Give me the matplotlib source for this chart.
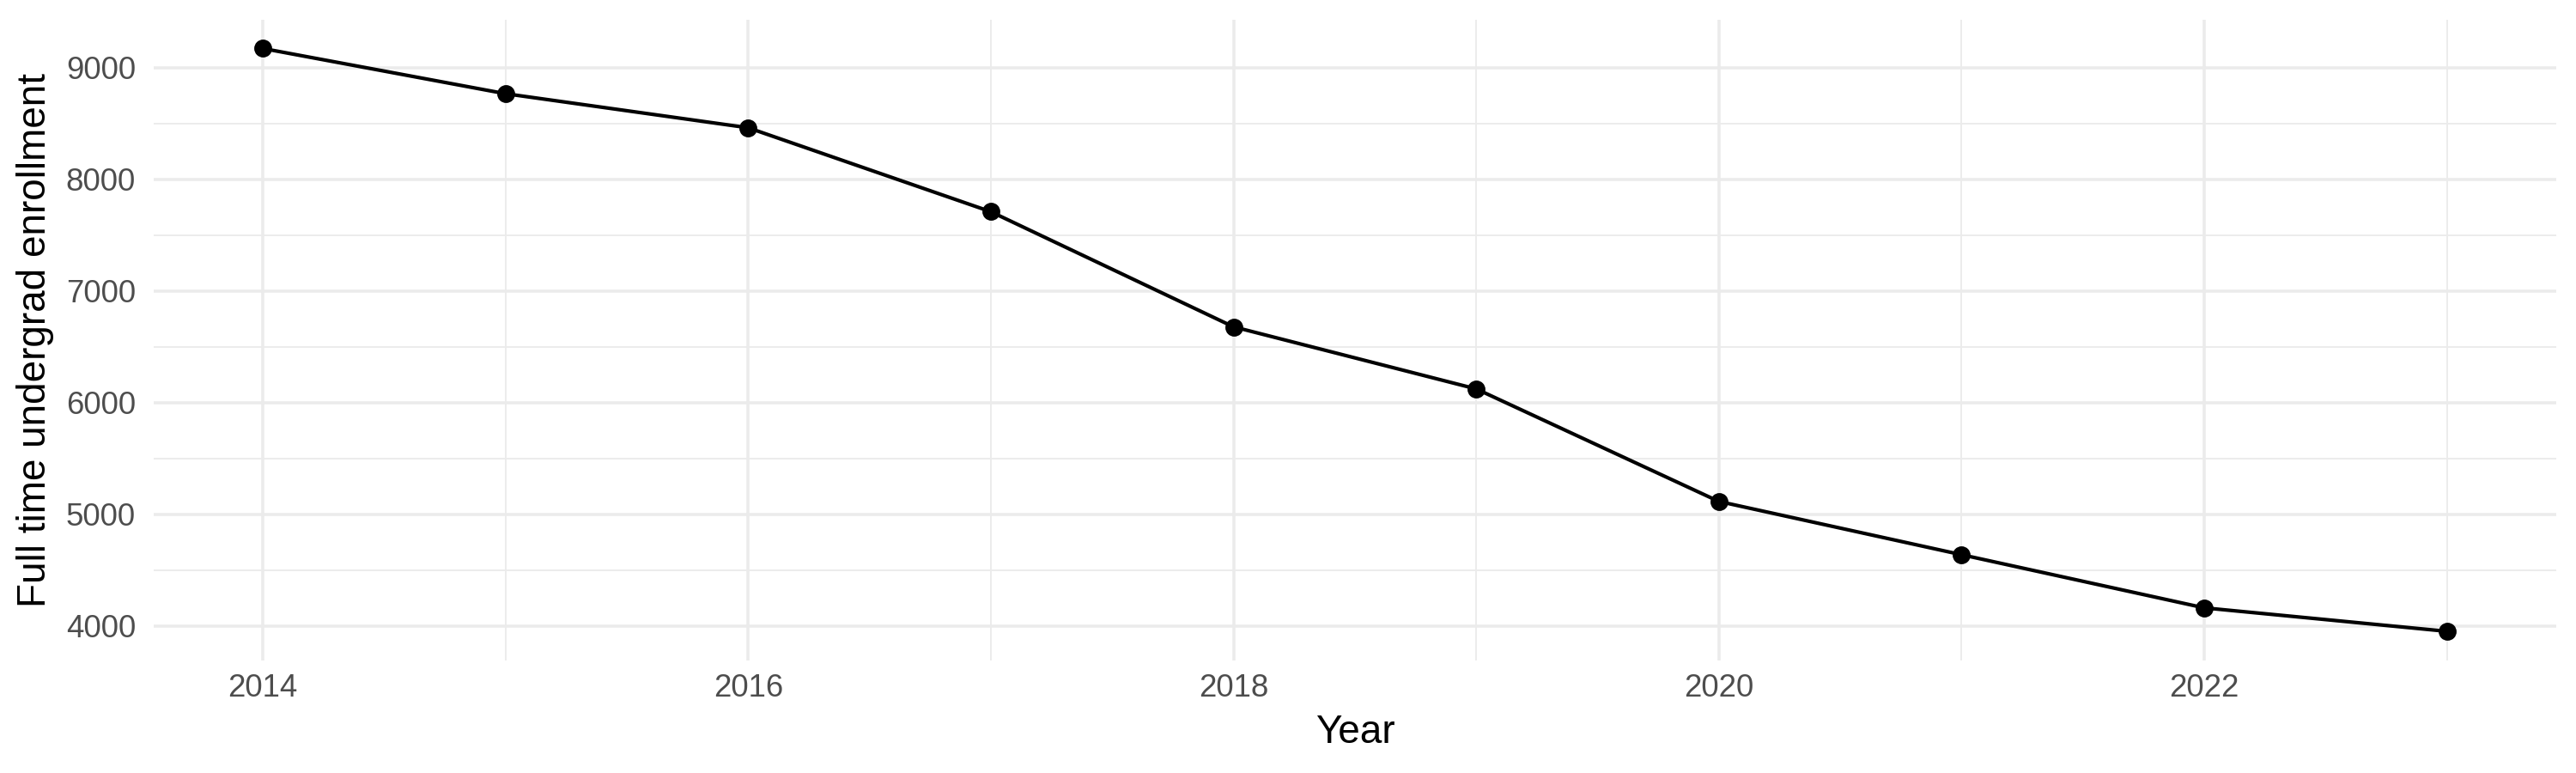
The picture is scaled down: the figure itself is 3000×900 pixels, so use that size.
import matplotlib
matplotlib.use("Agg")
import matplotlib.pyplot as plt
from matplotlib.ticker import MultipleLocator

years = [2014, 2015, 2016, 2017, 2018, 2019, 2020, 2021, 2022, 2023]
enrollment = [9172, 8767, 8462, 7710, 6679, 6123, 5115, 4638, 4162, 3952]
x_ticks = [2014, 2016, 2018, 2020, 2022]
y_ticks = [4000, 5000, 6000, 7000, 8000, 9000]

plt.rcParams['font.family'] = ['Liberation Sans', 'DejaVu Sans']

fig = plt.figure(figsize=(10, 3), dpi=300)
ax = fig.add_axes([0.0596, 0.1456, 0.9327, 0.8294])

ax.plot(years, enrollment, color='black', linewidth=1.0, zorder=3)
ax.plot(years, enrollment, 'o', color='black', markersize=4.0, zorder=4)

xr = max(years) - min(years)
ax.set_xlim(min(years) - 0.05 * xr, max(years) + 0.05 * xr)
yr = max(enrollment) - min(enrollment)
ax.set_ylim(min(enrollment) - 0.05 * yr, max(enrollment) + 0.05 * yr)

ax.set_xticks(x_ticks)
ax.set_yticks(y_ticks)
ax.xaxis.set_minor_locator(MultipleLocator(1))
ax.yaxis.set_minor_locator(MultipleLocator(500))

ax.grid(which='major', color='#ebebeb', linewidth=0.85, zorder=0)
ax.grid(which='minor', color='#ebebeb', linewidth=0.45, zorder=0)
ax.set_axisbelow(True)

for s in ax.spines.values():
    s.set_visible(False)
ax.tick_params(which='both', length=0)
ax.tick_params(axis='x', labelsize=8.8, labelcolor='#4d4d4d', pad=3.5)
ax.tick_params(axis='y', labelsize=8.8, labelcolor='#4d4d4d', pad=5.0)

ax.set_xlabel('Year', fontsize=11, color='black', labelpad=3)
ax.set_ylabel('Full time undergrad enrollment', fontsize=11, color='black', labelpad=3.3)

fig.savefig('out.png', dpi=300, facecolor='white')
